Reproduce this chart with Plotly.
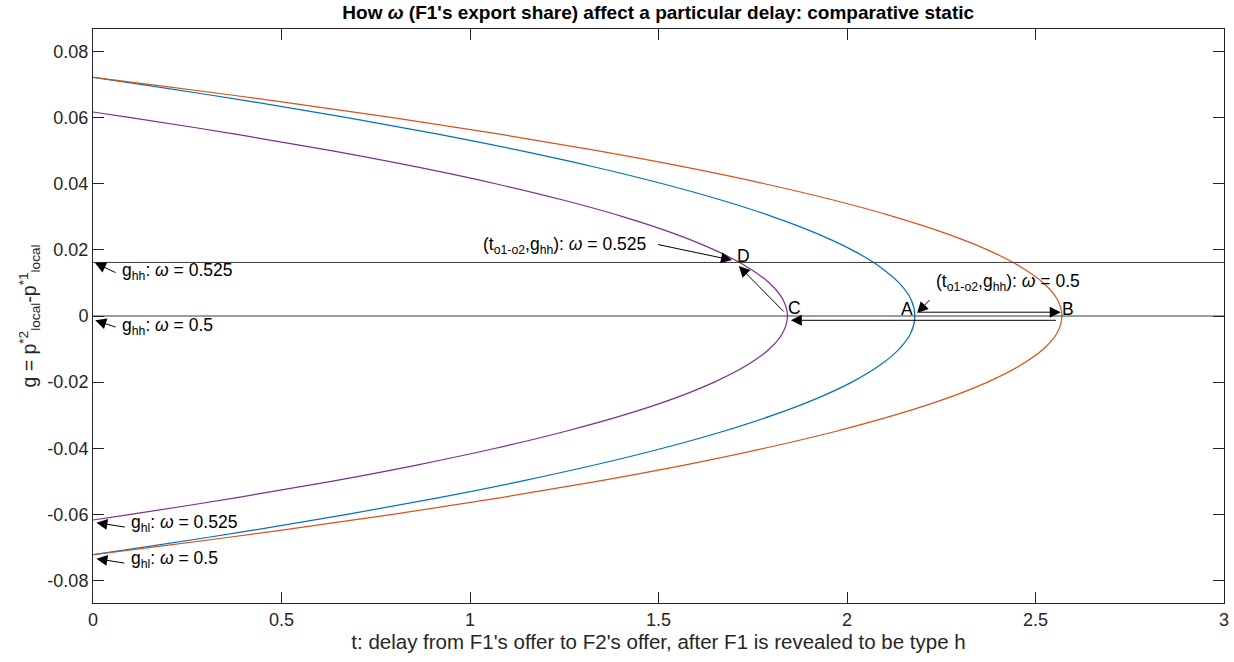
import plotly.graph_objects as go

# g grid (vertical axis) shared by the two omega = 0.5 curves
g_outer = [0.0722, 0.07, 0.065, 0.06, 0.055, 0.05, 0.045, 0.04, 0.035, 0.03, 0.025,
           0.02, 0.015, 0.01, 0.005, 0.0, -0.005, -0.01, -0.015, -0.02, -0.025,
           -0.03, -0.035, -0.04, -0.045, -0.05, -0.055, -0.06, -0.065, -0.07, -0.0722]
# delay t on the blue curve
t_blue = [0.0, 0.131, 0.413, 0.674, 0.915, 1.134, 1.333, 1.511, 1.668, 1.804, 1.919,
          2.013, 2.086, 2.138, 2.170, 2.18, 2.170, 2.138, 2.086, 2.013, 1.919,
          1.804, 1.668, 1.511, 1.333, 1.134, 0.915, 0.674, 0.413, 0.131, 0.0]
# delay t on the orange curve
t_orange = [0.0, 0.154, 0.487, 0.795, 1.079, 1.337, 1.572, 1.781, 1.966, 2.126, 2.262,
            2.373, 2.459, 2.521, 2.558, 2.57, 2.558, 2.521, 2.459, 2.373, 2.262,
            2.126, 1.966, 1.781, 1.572, 1.337, 1.079, 0.795, 0.487, 0.154, 0.0]
# omega = 0.525 curve
g_inner = [0.0617, 0.06, 0.055, 0.05, 0.045, 0.04, 0.035, 0.03, 0.025, 0.02, 0.015,
           0.01, 0.005, 0.0, -0.005, -0.01, -0.015, -0.02, -0.025, -0.03, -0.035,
           -0.04, -0.045, -0.05, -0.055, -0.06, -0.0617]
t_purple = [0.0, 0.100, 0.378, 0.632, 0.862, 1.068, 1.249, 1.407, 1.540, 1.648, 1.733,
            1.794, 1.830, 1.842, 1.830, 1.794, 1.733, 1.648, 1.540, 1.407, 1.249,
            1.068, 0.862, 0.632, 0.378, 0.100, 0.0]

# g_hh levels for omega = 0.525 and omega = 0.5
g_hh_levels = [0.0162, 0.0]
x_span = [0, 3]

x_ticks = [0, 0.5, 1, 1.5, 2, 2.5, 3]
x_labels = ["0", "0.5", "1", "1.5", "2", "2.5", "3"]
y_ticks = [-0.08, -0.06, -0.04, -0.02, 0, 0.02, 0.04, 0.06, 0.08]
y_labels = ["-0.08", "-0.06", "-0.04", "-0.02", "0", "0.02", "0.04", "0.06", "0.08"]

BLUE, ORANGE, PURPLE = "#0072BD", "#D95319", "#7E2F8E"
INK = "#262626"
FONT = "Liberation Sans, Arial, Helvetica, sans-serif"
W = "<i>ω</i>"

fig = go.Figure()
for t, g, c in [(t_purple, g_inner, PURPLE), (t_blue, g_outer, BLUE), (t_orange, g_outer, ORANGE)]:
    fig.add_trace(go.Scatter(x=t, y=g, mode="lines", line=dict(color=c, width=1.2, shape="spline", smoothing=1.0),
                             hoverinfo="skip", showlegend=False))
for lvl in g_hh_levels:
    fig.add_trace(go.Scatter(x=x_span, y=[lvl, lvl], mode="lines", line=dict(color="#3a3a3a", width=1),
                             hoverinfo="skip", showlegend=False))

# arrows: (head t, head g, tail t, tail g)
arrows = [
    (0.005, 0.0161, 0.064, 0.0129),
    (0.006, -0.0013, 0.064, -0.0035),
    (0.009, -0.0625, 0.0885, -0.0639),
    (0.009, -0.0734, 0.087, -0.0748),
    (1.695, 0.0169, 1.495, 0.0217),
    (1.713, 0.0151, 1.836, 0.0009),
    (1.851, -0.0013, 2.558, -0.0013),
    (2.567, 0.00115, 2.187, 0.00115),
    (2.186, 0.0009, 2.223, 0.0053),
]
ann = []
for hx, hy, tx, ty in arrows:
    ann.append(dict(x=hx, y=hy, ax=tx, ay=ty, xref="x", yref="y", axref="x", ayref="y",
                    text="", showarrow=True, arrowhead=2, arrowsize=2.2, arrowwidth=1,
                    arrowcolor="black", standoff=0, startstandoff=0))

# text labels: (t, g, text, anchor)
labels = [
    (0.0727, 0.0136, f"g<sub>hh</sub>: {W} = 0.525", "left"),
    (0.0727, -0.0033, f"g<sub>hh</sub>: {W} = 0.5", "left"),
    (0.095, -0.0628, f"g<sub>hl</sub>: {W} = 0.525", "left"),
    (0.095, -0.0736, f"g<sub>hl</sub>: {W} = 0.5", "left"),
    (1.030, 0.0212, f"(t<sub>o1-o2</sub>,g<sub>hh</sub>): {W} = 0.525", "left"),
    (2.232, 0.0100, f"(t<sub>o1-o2</sub>,g<sub>hh</sub>): {W} = 0.5", "left"),
    (1.726, 0.0180, "D", "center"),
    (1.860, 0.0023, "C", "center"),
    (2.159, 0.0021, "A", "center"),
    (2.587, 0.0021, "B", "center"),
]
for x, y, txt, anc in labels:
    ann.append(dict(x=x, y=y, xref="x", yref="y", text=txt, showarrow=False,
                    xanchor=anc, yanchor="middle", font=dict(size=17.5, color="black", family=FONT)))

axis_common = dict(showline=True, linecolor=INK, linewidth=1, mirror="ticks", ticks="inside",
                   ticklen=11, tickcolor=INK, tickwidth=1, showgrid=False, zeroline=False,
                   automargin=False, tickfont=dict(size=18, color=INK, family=FONT))

fig.update_layout(
    width=1234, height=662,
    margin=dict(l=93, r=10, t=29, b=59),
    paper_bgcolor="white", plot_bgcolor="white",
    font=dict(family=FONT, color=INK),
    title=dict(text=f"<b>How {W} (F1's export share) affect a particular delay: comparative static</b>",
               x=0.5334, xanchor="center", y=0.982, yanchor="middle",
               font=dict(size=19, color="black", family=FONT)),
    xaxis=dict(range=[0, 3], tickvals=x_ticks, ticktext=x_labels,
               title=dict(text="t: delay from F1's offer to F2's offer, after F1 is revealed to be type h",
                          font=dict(size=20.5, color=INK, family=FONT), standoff=6),
               **axis_common),
    yaxis=dict(range=[-0.0868, 0.0868], tickvals=y_ticks, ticktext=y_labels,
               title=dict(text="g = p<sup>*2</sup><sub>local</sub>-p<sup>*1</sup><sub>local</sub>",
                          font=dict(size=19.5, color=INK, family=FONT), standoff=5),
               **axis_common),
    annotations=ann,
)

fig.write_html("out.html")
